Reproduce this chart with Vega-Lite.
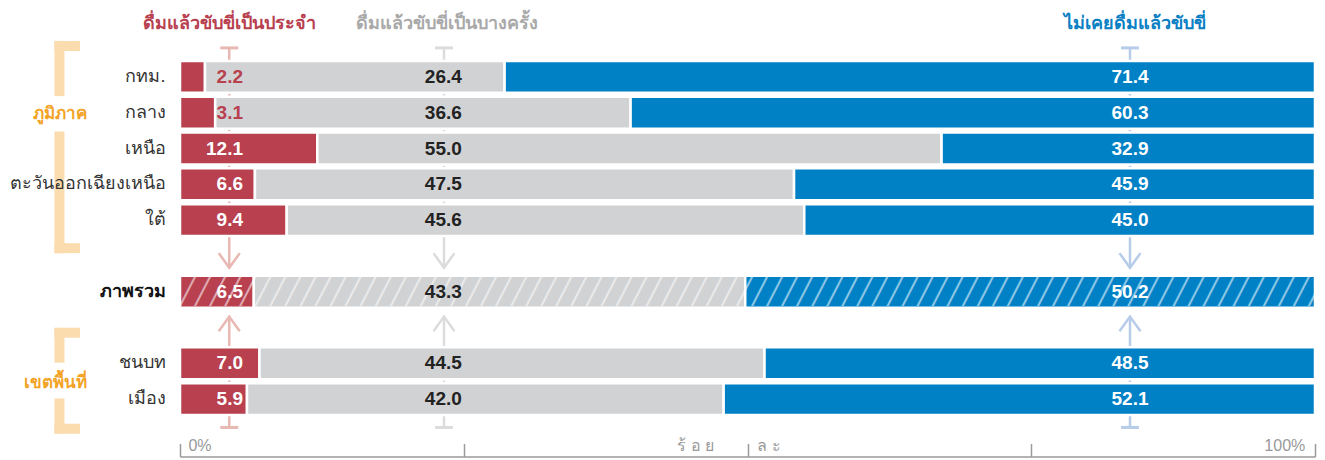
{
  "$schema": "https://vega.github.io/schema/vega-lite/v6.json",
  "width": 1135,
  "height": 358,
  "autosize": "none",
  "padding": {"left": 180, "top": 59, "right": 10, "bottom": 43},
  "background": "white",
  "config": {"view": {"stroke": null}, "font": "Liberation Sans"},
  "datasets": {
    "main": [
      {"cat": "กทม.", "s": "1", "v": 2.2}, {"cat": "กทม.", "s": "2", "v": 26.4}, {"cat": "กทม.", "s": "3", "v": 71.4},
      {"cat": "กลาง", "s": "1", "v": 3.1}, {"cat": "กลาง", "s": "2", "v": 36.6}, {"cat": "กลาง", "s": "3", "v": 60.3},
      {"cat": "เหนือ", "s": "1", "v": 12.1}, {"cat": "เหนือ", "s": "2", "v": 55.0}, {"cat": "เหนือ", "s": "3", "v": 32.9},
      {"cat": "ตะวันออกเฉียงเหนือ", "s": "1", "v": 6.6}, {"cat": "ตะวันออกเฉียงเหนือ", "s": "2", "v": 47.5}, {"cat": "ตะวันออกเฉียงเหนือ", "s": "3", "v": 45.9},
      {"cat": "ใต้", "s": "1", "v": 9.4}, {"cat": "ใต้", "s": "2", "v": 45.6}, {"cat": "ใต้", "s": "3", "v": 45.0},
      {"cat": "ภาพรวม", "s": "1", "v": 6.5}, {"cat": "ภาพรวม", "s": "2", "v": 43.3}, {"cat": "ภาพรวม", "s": "3", "v": 50.2},
      {"cat": "ชนบท", "s": "1", "v": 7.0}, {"cat": "ชนบท", "s": "2", "v": 44.5}, {"cat": "ชนบท", "s": "3", "v": 48.5},
      {"cat": "เมือง", "s": "1", "v": 5.9}, {"cat": "เมือง", "s": "2", "v": 42.0}, {"cat": "เมือง", "s": "3", "v": 52.1}
    ]
  },
  "layer": [
    {"data": {"values": [{}]}, "mark": {"type": "rule", "stroke": "#e8b8b2", "strokeWidth": 2.5},
     "encoding": {"x": {"datum": 4.34, "type": "quantitative", "scale": {"domain": [0, 100]}},
       "y": {"datum": "กทม.", "type": "nominal", "bandPosition": -0.41, "scale": {"domain": ["กทม.","กลาง","เหนือ","ตะวันออกเฉียงเหนือ","ใต้","_a","ภาพรวม","_b","ชนบท","เมือง"]}},
       "y2": {"datum": "ภาพรวม", "bandPosition": -0.25}}},
    {"data": {"values": [{}]}, "mark": {"type": "rule", "stroke": "#e8b8b2", "strokeWidth": 2.5},
     "encoding": {"x": {"datum": 4.34, "type": "quantitative", "scale": {"domain": [0, 100]}},
       "y": {"datum": "ภาพรวม", "type": "nominal", "bandPosition": 1.28, "scale": {"domain": ["กทม.","กลาง","เหนือ","ตะวันออกเฉียงเหนือ","ใต้","_a","ภาพรวม","_b","ชนบท","เมือง"]}},
       "y2": {"datum": "เมือง", "bandPosition": 1.39}}},
    {"data": {"values": [{}]}, "mark": {"type": "rule", "stroke": "#e8b8b2", "strokeWidth": 3},
     "encoding": {"x": {"datum": 3.55, "type": "quantitative", "scale": {"domain": [0, 100]}}, "x2": {"datum": 5.13},
       "y": {"datum": "กทม.", "type": "nominal", "bandPosition": -0.41, "scale": {"domain": ["กทม.","กลาง","เหนือ","ตะวันออกเฉียงเหนือ","ใต้","_a","ภาพรวม","_b","ชนบท","เมือง"]}}}},
    {"data": {"values": [{}]}, "mark": {"type": "rule", "stroke": "#e8b8b2", "strokeWidth": 3},
     "encoding": {"x": {"datum": 3.55, "type": "quantitative", "scale": {"domain": [0, 100]}}, "x2": {"datum": 5.13},
       "y": {"datum": "เมือง", "type": "nominal", "bandPosition": 1.39, "scale": {"domain": ["กทม.","กลาง","เหนือ","ตะวันออกเฉียงเหนือ","ใต้","_a","ภาพรวม","_b","ชนบท","เมือง"]}}}},
    {"data": {"values": [{}]}, "mark": {"type": "point", "shape": "M-1,-1.4L0,0L1,-1.4", "filled": false, "stroke": "#e8b8b2", "strokeWidth": 2.5, "size": 441, "opacity": 1},
     "encoding": {"x": {"datum": 4.34, "type": "quantitative", "scale": {"domain": [0, 100]}},
       "y": {"datum": "ภาพรวม", "type": "nominal", "bandPosition": -0.25, "scale": {"domain": ["กทม.","กลาง","เหนือ","ตะวันออกเฉียงเหนือ","ใต้","_a","ภาพรวม","_b","ชนบท","เมือง"]}}}},
    {"data": {"values": [{}]}, "mark": {"type": "point", "shape": "M-1,1.4L0,0L1,1.4", "filled": false, "stroke": "#e8b8b2", "strokeWidth": 2.5, "size": 441, "opacity": 1},
     "encoding": {"x": {"datum": 4.34, "type": "quantitative", "scale": {"domain": [0, 100]}},
       "y": {"datum": "ภาพรวม", "type": "nominal", "bandPosition": 1.28, "scale": {"domain": ["กทม.","กลาง","เหนือ","ตะวันออกเฉียงเหนือ","ใต้","_a","ภาพรวม","_b","ชนบท","เมือง"]}}}},

    {"data": {"values": [{}]}, "mark": {"type": "rule", "stroke": "#dcdcdc", "strokeWidth": 2.5},
     "encoding": {"x": {"datum": 23.26, "type": "quantitative", "scale": {"domain": [0, 100]}},
       "y": {"datum": "กทม.", "type": "nominal", "bandPosition": -0.41, "scale": {"domain": ["กทม.","กลาง","เหนือ","ตะวันออกเฉียงเหนือ","ใต้","_a","ภาพรวม","_b","ชนบท","เมือง"]}},
       "y2": {"datum": "ภาพรวม", "bandPosition": -0.25}}},
    {"data": {"values": [{}]}, "mark": {"type": "rule", "stroke": "#dcdcdc", "strokeWidth": 2.5},
     "encoding": {"x": {"datum": 23.26, "type": "quantitative", "scale": {"domain": [0, 100]}},
       "y": {"datum": "ภาพรวม", "type": "nominal", "bandPosition": 1.28, "scale": {"domain": ["กทม.","กลาง","เหนือ","ตะวันออกเฉียงเหนือ","ใต้","_a","ภาพรวม","_b","ชนบท","เมือง"]}},
       "y2": {"datum": "เมือง", "bandPosition": 1.39}}},
    {"data": {"values": [{}]}, "mark": {"type": "rule", "stroke": "#dcdcdc", "strokeWidth": 3},
     "encoding": {"x": {"datum": 22.47, "type": "quantitative", "scale": {"domain": [0, 100]}}, "x2": {"datum": 24.05},
       "y": {"datum": "กทม.", "type": "nominal", "bandPosition": -0.41, "scale": {"domain": ["กทม.","กลาง","เหนือ","ตะวันออกเฉียงเหนือ","ใต้","_a","ภาพรวม","_b","ชนบท","เมือง"]}}}},
    {"data": {"values": [{}]}, "mark": {"type": "rule", "stroke": "#dcdcdc", "strokeWidth": 3},
     "encoding": {"x": {"datum": 22.47, "type": "quantitative", "scale": {"domain": [0, 100]}}, "x2": {"datum": 24.05},
       "y": {"datum": "เมือง", "type": "nominal", "bandPosition": 1.39, "scale": {"domain": ["กทม.","กลาง","เหนือ","ตะวันออกเฉียงเหนือ","ใต้","_a","ภาพรวม","_b","ชนบท","เมือง"]}}}},
    {"data": {"values": [{}]}, "mark": {"type": "point", "shape": "M-1,-1.4L0,0L1,-1.4", "filled": false, "stroke": "#dcdcdc", "strokeWidth": 2.5, "size": 441, "opacity": 1},
     "encoding": {"x": {"datum": 23.26, "type": "quantitative", "scale": {"domain": [0, 100]}},
       "y": {"datum": "ภาพรวม", "type": "nominal", "bandPosition": -0.25, "scale": {"domain": ["กทม.","กลาง","เหนือ","ตะวันออกเฉียงเหนือ","ใต้","_a","ภาพรวม","_b","ชนบท","เมือง"]}}}},
    {"data": {"values": [{}]}, "mark": {"type": "point", "shape": "M-1,1.4L0,0L1,1.4", "filled": false, "stroke": "#dcdcdc", "strokeWidth": 2.5, "size": 441, "opacity": 1},
     "encoding": {"x": {"datum": 23.26, "type": "quantitative", "scale": {"domain": [0, 100]}},
       "y": {"datum": "ภาพรวม", "type": "nominal", "bandPosition": 1.28, "scale": {"domain": ["กทม.","กลาง","เหนือ","ตะวันออกเฉียงเหนือ","ใต้","_a","ภาพรวม","_b","ชนบท","เมือง"]}}}},

    {"data": {"values": [{}]}, "mark": {"type": "rule", "stroke": "#b7cce9", "strokeWidth": 2.5},
     "encoding": {"x": {"datum": 83.7, "type": "quantitative", "scale": {"domain": [0, 100]}},
       "y": {"datum": "กทม.", "type": "nominal", "bandPosition": -0.41, "scale": {"domain": ["กทม.","กลาง","เหนือ","ตะวันออกเฉียงเหนือ","ใต้","_a","ภาพรวม","_b","ชนบท","เมือง"]}},
       "y2": {"datum": "ภาพรวม", "bandPosition": -0.25}}},
    {"data": {"values": [{}]}, "mark": {"type": "rule", "stroke": "#b7cce9", "strokeWidth": 2.5},
     "encoding": {"x": {"datum": 83.7, "type": "quantitative", "scale": {"domain": [0, 100]}},
       "y": {"datum": "ภาพรวม", "type": "nominal", "bandPosition": 1.28, "scale": {"domain": ["กทม.","กลาง","เหนือ","ตะวันออกเฉียงเหนือ","ใต้","_a","ภาพรวม","_b","ชนบท","เมือง"]}},
       "y2": {"datum": "เมือง", "bandPosition": 1.39}}},
    {"data": {"values": [{}]}, "mark": {"type": "rule", "stroke": "#b7cce9", "strokeWidth": 3},
     "encoding": {"x": {"datum": 82.91, "type": "quantitative", "scale": {"domain": [0, 100]}}, "x2": {"datum": 84.49},
       "y": {"datum": "กทม.", "type": "nominal", "bandPosition": -0.41, "scale": {"domain": ["กทม.","กลาง","เหนือ","ตะวันออกเฉียงเหนือ","ใต้","_a","ภาพรวม","_b","ชนบท","เมือง"]}}}},
    {"data": {"values": [{}]}, "mark": {"type": "rule", "stroke": "#b7cce9", "strokeWidth": 3},
     "encoding": {"x": {"datum": 82.91, "type": "quantitative", "scale": {"domain": [0, 100]}}, "x2": {"datum": 84.49},
       "y": {"datum": "เมือง", "type": "nominal", "bandPosition": 1.39, "scale": {"domain": ["กทม.","กลาง","เหนือ","ตะวันออกเฉียงเหนือ","ใต้","_a","ภาพรวม","_b","ชนบท","เมือง"]}}}},
    {"data": {"values": [{}]}, "mark": {"type": "point", "shape": "M-1,-1.4L0,0L1,-1.4", "filled": false, "stroke": "#b7cce9", "strokeWidth": 2.5, "size": 441, "opacity": 1},
     "encoding": {"x": {"datum": 83.7, "type": "quantitative", "scale": {"domain": [0, 100]}},
       "y": {"datum": "ภาพรวม", "type": "nominal", "bandPosition": -0.25, "scale": {"domain": ["กทม.","กลาง","เหนือ","ตะวันออกเฉียงเหนือ","ใต้","_a","ภาพรวม","_b","ชนบท","เมือง"]}}}},
    {"data": {"values": [{}]}, "mark": {"type": "point", "shape": "M-1,1.4L0,0L1,1.4", "filled": false, "stroke": "#b7cce9", "strokeWidth": 2.5, "size": 441, "opacity": 1},
     "encoding": {"x": {"datum": 83.7, "type": "quantitative", "scale": {"domain": [0, 100]}},
       "y": {"datum": "ภาพรวม", "type": "nominal", "bandPosition": 1.28, "scale": {"domain": ["กทม.","กลาง","เหนือ","ตะวันออกเฉียงเหนือ","ใต้","_a","ภาพรวม","_b","ชนบท","เมือง"]}}}},

    {"data": {"values": [{}]}, "mark": {"type": "rule", "stroke": "#fadcae", "strokeWidth": 10, "strokeCap": "butt"},
     "encoding": {"x": {"datum": -10.62, "type": "quantitative", "scale": {"domain": [0, 100]}},
       "y": {"datum": "กทม.", "type": "nominal", "bandPosition": -0.63, "scale": {"domain": ["กทม.","กลาง","เหนือ","ตะวันออกเฉียงเหนือ","ใต้","_a","ภาพรวม","_b","ชนบท","เมือง"]}},
       "y2": {"datum": "กลาง", "bandPosition": -0.02}}},
    {"data": {"values": [{}]}, "mark": {"type": "rule", "stroke": "#fadcae", "strokeWidth": 10, "strokeCap": "butt"},
     "encoding": {"x": {"datum": -11.06, "type": "quantitative", "scale": {"domain": [0, 100]}}, "x2": {"datum": -8.81},
       "y": {"datum": "กทม.", "type": "nominal", "bandPosition": -0.47, "scale": {"domain": ["กทม.","กลาง","เหนือ","ตะวันออกเฉียงเหนือ","ใต้","_a","ภาพรวม","_b","ชนบท","เมือง"]}}}},
    {"data": {"values": [{}]}, "mark": {"type": "rule", "stroke": "#fadcae", "strokeWidth": 10, "strokeCap": "butt"},
     "encoding": {"x": {"datum": -10.62, "type": "quantitative", "scale": {"domain": [0, 100]}},
       "y": {"datum": "เหนือ", "type": "nominal", "bandPosition": -0.03, "scale": {"domain": ["กทม.","กลาง","เหนือ","ตะวันออกเฉียงเหนือ","ใต้","_a","ภาพรวม","_b","ชนบท","เมือง"]}},
       "y2": {"datum": "ใต้", "bandPosition": 1.54}}},
    {"data": {"values": [{}]}, "mark": {"type": "rule", "stroke": "#fadcae", "strokeWidth": 10, "strokeCap": "butt"},
     "encoding": {"x": {"datum": -11.06, "type": "quantitative", "scale": {"domain": [0, 100]}}, "x2": {"datum": -8.81},
       "y": {"datum": "ใต้", "type": "nominal", "bandPosition": 1.38, "scale": {"domain": ["กทม.","กลาง","เหนือ","ตะวันออกเฉียงเหนือ","ใต้","_a","ภาพรวม","_b","ชนบท","เมือง"]}}}},
    {"data": {"values": [{}]}, "mark": {"type": "rule", "stroke": "#fadcae", "strokeWidth": 10, "strokeCap": "butt"},
     "encoding": {"x": {"datum": -10.62, "type": "quantitative", "scale": {"domain": [0, 100]}},
       "y": {"datum": "ชนบท", "type": "nominal", "bandPosition": -0.61, "scale": {"domain": ["กทม.","กลาง","เหนือ","ตะวันออกเฉียงเหนือ","ใต้","_a","ภาพรวม","_b","ชนบท","เมือง"]}},
       "y2": {"datum": "ชนบท", "bandPosition": 0.48}}},
    {"data": {"values": [{}]}, "mark": {"type": "rule", "stroke": "#fadcae", "strokeWidth": 10, "strokeCap": "butt"},
     "encoding": {"x": {"datum": -11.06, "type": "quantitative", "scale": {"domain": [0, 100]}}, "x2": {"datum": -8.81},
       "y": {"datum": "ชนบท", "type": "nominal", "bandPosition": -0.46, "scale": {"domain": ["กทม.","กลาง","เหนือ","ตะวันออกเฉียงเหนือ","ใต้","_a","ภาพรวม","_b","ชนบท","เมือง"]}}}},
    {"data": {"values": [{}]}, "mark": {"type": "rule", "stroke": "#fadcae", "strokeWidth": 10, "strokeCap": "butt"},
     "encoding": {"x": {"datum": -10.62, "type": "quantitative", "scale": {"domain": [0, 100]}},
       "y": {"datum": "เมือง", "type": "nominal", "bandPosition": 0.48, "scale": {"domain": ["กทม.","กลาง","เหนือ","ตะวันออกเฉียงเหนือ","ใต้","_a","ภาพรวม","_b","ชนบท","เมือง"]}},
       "y2": {"datum": "เมือง", "bandPosition": 1.58}}},
    {"data": {"values": [{}]}, "mark": {"type": "rule", "stroke": "#fadcae", "strokeWidth": 10, "strokeCap": "butt"},
     "encoding": {"x": {"datum": -11.06, "type": "quantitative", "scale": {"domain": [0, 100]}}, "x2": {"datum": -8.81},
       "y": {"datum": "เมือง", "type": "nominal", "bandPosition": 1.43, "scale": {"domain": ["กทม.","กลาง","เหนือ","ตะวันออกเฉียงเหนือ","ใต้","_a","ภาพรวม","_b","ชนบท","เมือง"]}}}},
    {"data": {"values": [{}]}, "mark": {"type": "text", "text": "ภูมิภาค", "align": "center", "baseline": "middle", "fontSize": 17, "fontWeight": "bold", "fill": "#f2a325"},
     "encoding": {"x": {"datum": -10.57, "type": "quantitative", "scale": {"domain": [0, 100]}},
       "y": {"datum": "กลาง", "type": "nominal", "bandPosition": 0.55, "scale": {"domain": ["กทม.","กลาง","เหนือ","ตะวันออกเฉียงเหนือ","ใต้","_a","ภาพรวม","_b","ชนบท","เมือง"]}}}},
    {"data": {"values": [{}]}, "mark": {"type": "text", "text": "เขตพื้นที่", "align": "center", "baseline": "middle", "fontSize": 17, "fontWeight": "bold", "fill": "#f2a325"},
     "encoding": {"x": {"datum": -10.93, "type": "quantitative", "scale": {"domain": [0, 100]}},
       "y": {"datum": "ชนบท", "type": "nominal", "bandPosition": 1.11, "scale": {"domain": ["กทม.","กลาง","เหนือ","ตะวันออกเฉียงเหนือ","ใต้","_a","ภาพรวม","_b","ชนบท","เมือง"]}}}},

    {"data": {"name": "main"},
     "mark": {"type": "bar", "stroke": "white", "strokeWidth": 2.5},
     "encoding": {
       "y": {"field": "cat", "type": "nominal",
             "scale": {"domain": ["กทม.","กลาง","เหนือ","ตะวันออกเฉียงเหนือ","ใต้","_a","ภาพรวม","_b","ชนบท","เมือง"], "paddingInner": 0.11, "paddingOuter": 0.055},
             "axis": {"orient": "left", "title": null, "ticks": false, "domain": false, "grid": false, "zindex": 2, "labelPadding": 15, "labelFontSize": 18, "labelLimit": 300,
                      "labelExpr": "indexof(datum.value, '_') == 0 ? '' : datum.value",
                      "labelColor": {"condition": {"test": "datum.value == 'ภาพรวม'", "value": "#111111"}, "value": "#333333"},
                      "labelFontWeight": {"condition": {"test": "datum.value == 'ภาพรวม'", "value": "bold"}, "value": "normal"}}},
       "x": {"field": "v", "type": "quantitative", "stack": "zero",
             "scale": {"domain": [0, 100], "nice": false},
             "axis": {"orient": "bottom", "offset": 39.5, "title": null, "grid": false,
                      "values": [0, 0.7, 25, 47, 50, 50.8, 75, 99.1, 100],
                      "labelExpr": "datum.value == 0.7 ? '0%' : datum.value == 99.1 ? '100%' : datum.value == 47 ? 'ร้  อ  ย' : datum.value == 50.8 ? 'ล  ะ' : ''",
                      "labelAlign": {"condition": {"test": "datum.value == 0.7 || datum.value == 50.8", "value": "left"}, "value": "right"},
                      "tickOpacity": {"condition": {"test": "datum.value == 0 || datum.value == 25 || datum.value == 50 || datum.value == 75 || datum.value == 100", "value": 1}, "value": 0},
                      "tickSize": -13, "tickWidth": 1.5, "tickColor": "#9a9a9a", "domainColor": "#9a9a9a", "domainWidth": 1.5,
                      "labelPadding": 6.5, "labelBaseline": "alphabetic", "labelColor": "#999999", "labelFontSize": 16,
                      "labelOverlap": false, "labelBound": false, "labelFlush": false}},
       "color": {"field": "s", "type": "nominal", "scale": {"domain": ["1", "2", "3"], "range": ["#b8404f", "#d1d2d4", "#0081c6"]}, "legend": null},
       "order": {"field": "s", "type": "ordinal", "sort": "ascending"}
     }},

    {"data": {"values": [{}]},
     "mark": {"type": "text", "text": "╱╱╱╱╱╱╱╱╱╱╱╱╱╱╱╱╱╱╱╱╱╱╱╱╱╱╱╱╱╱╱╱╱╱╱╱╱╱╱╱╱╱╱╱╱╱╱╱╱╱╱╱╱╱╱╱╱╱╱╱╱╱╱╱╱╱╱╱╱╱╱╱╱╱╱╱", "align": "left", "baseline": "middle", "fontSize": 25, "font": "DejaVu Sans Mono", "fill": "white", "opacity": 0.55},
     "encoding": {"x": {"datum": 0, "type": "quantitative", "scale": {"domain": [0, 100]}},
       "y": {"datum": "ภาพรวม", "type": "nominal", "bandPosition": 0.5, "scale": {"domain": ["กทม.","กลาง","เหนือ","ตะวันออกเฉียงเหนือ","ใต้","_a","ภาพรวม","_b","ชนบท","เมือง"]}}}},

    {"data": {"name": "main"}, "transform": [{"filter": "datum.s == '1'"}],
     "mark": {"type": "text", "align": "right", "baseline": "middle", "fontSize": 19, "fontWeight": "bold", "font": "Liberation Sans"},
     "encoding": {"y": {"field": "cat", "type": "nominal", "scale": {"domain": ["กทม.","กลาง","เหนือ","ตะวันออกเฉียงเหนือ","ใต้","_a","ภาพรวม","_b","ชนบท","เมือง"]}},
       "x": {"datum": 5.55, "type": "quantitative", "scale": {"domain": [0, 100]}},
       "text": {"field": "v", "type": "quantitative", "format": ".1f"},
       "color": {"condition": {"test": "datum.v < 4", "value": "#b8404f"}, "value": "white"}}},
    {"data": {"name": "main"}, "transform": [{"filter": "datum.s == '2'"}],
     "mark": {"type": "text", "align": "center", "baseline": "middle", "fontSize": 19, "fontWeight": "bold", "font": "Liberation Sans", "fill": "#222222"},
     "encoding": {"y": {"field": "cat", "type": "nominal", "scale": {"domain": ["กทม.","กลาง","เหนือ","ตะวันออกเฉียงเหนือ","ใต้","_a","ภาพรวม","_b","ชนบท","เมือง"]}},
       "x": {"datum": 23.2, "type": "quantitative", "scale": {"domain": [0, 100]}},
       "text": {"field": "v", "type": "quantitative", "format": ".1f"}}},
    {"data": {"name": "main"}, "transform": [{"filter": "datum.s == '3'"}],
     "mark": {"type": "text", "align": "center", "baseline": "middle", "fontSize": 19, "fontWeight": "bold", "font": "Liberation Sans", "fill": "white"},
     "encoding": {"y": {"field": "cat", "type": "nominal", "scale": {"domain": ["กทม.","กลาง","เหนือ","ตะวันออกเฉียงเหนือ","ใต้","_a","ภาพรวม","_b","ชนบท","เมือง"]}},
       "x": {"datum": 83.7, "type": "quantitative", "scale": {"domain": [0, 100]}},
       "text": {"field": "v", "type": "quantitative", "format": ".1f"}}},

    {"data": {"values": [{}]}, "mark": {"type": "text", "text": "ดื่มแล้วขับขี่เป็นประจำ", "align": "center", "baseline": "middle", "fontSize": 18, "fontWeight": "bold", "fill": "#b8404f"},
     "encoding": {"x": {"datum": 4.4, "type": "quantitative", "scale": {"domain": [0, 100]}},
       "y": {"datum": "กทม.", "type": "nominal", "bandPosition": -1.16, "scale": {"domain": ["กทม.","กลาง","เหนือ","ตะวันออกเฉียงเหนือ","ใต้","_a","ภาพรวม","_b","ชนบท","เมือง"]}}}},
    {"data": {"values": [{}]}, "mark": {"type": "text", "text": "ดื่มแล้วขับขี่เป็นบางครั้ง", "align": "center", "baseline": "middle", "fontSize": 18, "fontWeight": "bold", "fill": "#a9a9a9"},
     "encoding": {"x": {"datum": 23.5, "type": "quantitative", "scale": {"domain": [0, 100]}},
       "y": {"datum": "กทม.", "type": "nominal", "bandPosition": -1.16, "scale": {"domain": ["กทม.","กลาง","เหนือ","ตะวันออกเฉียงเหนือ","ใต้","_a","ภาพรวม","_b","ชนบท","เมือง"]}}}},
    {"data": {"values": [{}]}, "mark": {"type": "text", "text": "ไม่เคยดื่มแล้วขับขี่", "align": "center", "baseline": "middle", "fontSize": 18, "fontWeight": "bold", "fill": "#0a80c4"},
     "encoding": {"x": {"datum": 84.1, "type": "quantitative", "scale": {"domain": [0, 100]}},
       "y": {"datum": "กทม.", "type": "nominal", "bandPosition": -1.16, "scale": {"domain": ["กทม.","กลาง","เหนือ","ตะวันออกเฉียงเหนือ","ใต้","_a","ภาพรวม","_b","ชนบท","เมือง"]}}}}
  ]
}
